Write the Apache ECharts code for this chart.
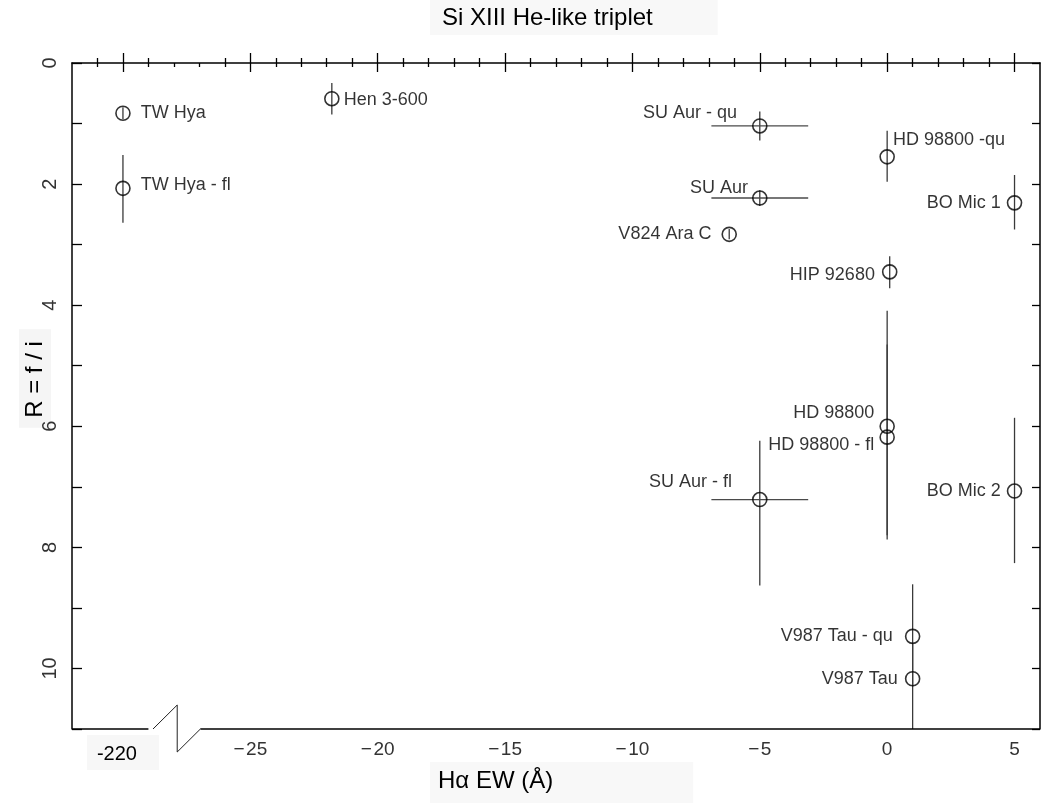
<!DOCTYPE html>
<html>
<head>
<meta charset="utf-8">
<title>Si XIII He-like triplet</title>
<script src="https://cdn.jsdelivr.net/npm/echarts@6/dist/echarts.min.js"></script>
<style>
  html, body { margin: 0; padding: 0; background: #fff; }
  #chart { width: 1049px; height: 803px; }
</style>
</head>
<body>
<div id="chart"></div>
<script>
// Stars and their Si XIII f/i ratio against H-alpha equivalent width
const names = ['TW Hya', 'TW Hya - fl', 'Hen 3-600', 'SU Aur - qu', 'HD 98800 -qu', 'SU Aur',
  'BO Mic 1', 'V824 Ara C', 'HIP 92680', 'HD 98800', 'HD 98800 - fl', 'SU Aur - fl',
  'BO Mic 2', 'V987 Tau - qu', 'V987 Tau'];
const haEW    = [-220, -220, -21.8, -5, 0, -5, 5, -6.2, 0.1, 0, 0, -5, 5, 1, 1];
const ratioR  = [0.83, 2.07, 0.59, 1.04, 1.55, 2.23, 2.31, 2.83, 3.45, 6.00, 6.18, 7.21, 7.07, 9.47, 10.17];
const ratioLo = [0.73, 1.52, 0.33, 0.80, 1.12, 2.10, 1.85, 2.74, 3.19, 4.09, 4.65, 6.24, 5.86, 8.61, 9.60];
const ratioHi = [0.93, 2.64, 0.85, 1.28, 1.96, 2.36, 2.75, 2.91, 3.72, 7.87, 7.80, 8.63, 8.26, 10.30, 11.60];
const ewLo    = [null, null, null, -6.9, null, -6.9, null, null, null, null, null, -6.9, null, null, null];
const ewHi    = [null, null, null, -3.1, null, -3.1, null, null, null, null, null, -3.1, null, null, null];

// Tick values and labels
const xMajorTicks = [-30, -25, -20, -15, -10, -5, 0, 5];
const xMajorLabels = ['-220', '\u2212\u200a25', '\u2212\u200a20', '\u2212\u200a15', '\u2212\u200a10', '\u2212\u200a5', '0', '5'];
const yMajorTicks = [0, 2, 4, 6, 8, 10];
const yMajorLabels = ['0', '2', '4', '6', '8', '10'];

// Broken x axis: the -220 group is drawn at -30 on the linear scale
const BREAK_REAL = -220, BREAK_SHOWN = -30;
const shownX = v => (v < -100 ? v - BREAK_REAL + BREAK_SHOWN : v);
const X_MIN = -32, X_MAX = 6, Y_MIN = 0, Y_MAX = 11;

// minor ticks every unit; the bottom axis has no ticks inside the break
const allUnits = [];
for (let v = -31; v <= 5; v++) if (v % 5 !== 0) allUnits.push(v);
const bottomMinor = allUnits.filter(v => v !== -28 && v !== -27);

// label placement: side, gap from marker centre (px), vertical shift (px)
const labelLayout = {
  'TW Hya': ['right', 17, 0],
  'TW Hya - fl': ['right', 17, -3],
  'Hen 3-600': ['right', 11, 1],
  'SU Aur - qu': ['left', 22, -13],
  'HD 98800 -qu': ['right', 5, -17],
  'SU Aur': ['left', 11, -10],
  'BO Mic 1': ['left', 13, 0],
  'V824 Ara C': ['left', 17, 0],
  'HIP 92680': ['left', 14, 3],
  'HD 98800': ['left', 12, -13],
  'HD 98800 - fl': ['left', 12, 8],
  'SU Aur - fl': ['left', 27, -18],
  'BO Mic 2': ['left', 13, 0],
  'V987 Tau - qu': ['left', 19, 0],
  'V987 Tau': ['left', 14, 0]
};

const FONT = '"Liberation Sans", Arial, Helvetica, sans-serif';
const MARK = 14;

const chart = echarts.init(document.getElementById('chart'), null, { renderer: 'canvas' });

const points = names.map((n, i) => {
  const [side, gap, dy] = labelLayout[n];
  const dx = side === 'left' ? -(gap - MARK / 2) : (gap - MARK / 2);
  return {
    name: n,
    value: [shownX(haEW[i]), ratioR[i]],
    label: { position: side, distance: 0, offset: [dx, dy] }
  };
});

const tickLine = { color: '#000', width: 1.3 };

const option = {
  animation: false,
  backgroundColor: '#fff',
  grid: { left: 72, right: 9, top: 63, bottom: 74, containLabel: false },
  xAxis: [
    { // bottom, major ticks and labels
      type: 'value', position: 'bottom', min: X_MIN, max: X_MAX,
      axisLine: { show: false },
      splitLine: { show: false },
      axisTick: { show: true, inside: true, length: 10, lineStyle: tickLine, customValues: xMajorTicks },
      axisLabel: {
        show: true, margin: 6, customValues: xMajorTicks,
        formatter: v => {
          const k = xMajorTicks.indexOf(v);
          const t = k >= 0 ? xMajorLabels[k] : '';
          return v < -27 ? '{brk|' + t + '}' : '{n|' + t + '}';
        },
        rich: {
          n: { fontFamily: FONT, fontSize: 19, color: '#333', padding: [5, 0, 0, 0] },
          brk: {
            fontFamily: FONT, fontSize: 20, color: '#000',
            backgroundColor: '#f7f7f7', padding: [9, 22, 6, 10]
          }
        }
      }
    },
    { // bottom, minor ticks
      type: 'value', position: 'bottom', min: X_MIN, max: X_MAX,
      axisLine: { show: false }, splitLine: { show: false }, axisLabel: { show: false },
      axisTick: { show: true, inside: true, length: 5, lineStyle: tickLine, customValues: bottomMinor }
    },
    { // top, major ticks
      type: 'value', position: 'top', min: X_MIN, max: X_MAX,
      axisLine: { show: true, onZero: false, lineStyle: { color: '#000', width: 1.5 } },
      splitLine: { show: false }, axisLabel: { show: false },
      axisTick: { show: true, inside: true, length: 9, lineStyle: tickLine, customValues: xMajorTicks }
    },
    { // top, minor ticks
      type: 'value', position: 'top', min: X_MIN, max: X_MAX,
      axisLine: { show: false }, splitLine: { show: false }, axisLabel: { show: false },
      axisTick: { show: true, inside: true, length: 4, lineStyle: tickLine, customValues: allUnits }
    }
  ],
  yAxis: [
    {
      type: 'value', position: 'left', inverse: true, min: Y_MIN, max: Y_MAX, interval: 1,
      axisLine: { show: true, onZero: false, lineStyle: { color: '#000', width: 1.5 } },
      splitLine: { show: false },
      axisTick: { show: true, inside: true, length: 10, lineStyle: tickLine },
      axisLabel: {
        show: true, rotate: 90, margin: 12, fontFamily: FONT, fontSize: 20, color: '#333',
        formatter: v => {
          const k = yMajorTicks.indexOf(v);
          return k >= 0 ? yMajorLabels[k] : '';
        }
      }
    },
    {
      type: 'value', position: 'right', inverse: true, min: Y_MIN, max: Y_MAX, interval: 1,
      axisLine: { show: true, onZero: false, lineStyle: { color: '#000', width: 1.5 } },
      splitLine: { show: false }, axisLabel: { show: false },
      axisTick: { show: true, inside: true, length: 8, lineStyle: tickLine }
    }
  ],
  series: [
    { // error bars
      type: 'custom',
      xAxisIndex: 0, yAxisIndex: 0,
      clip: true,
      data: names.map((n, i) => [shownX(haEW[i]), ratioR[i]]),
      renderItem: (params, api) => {
        const i = params.dataIndex;
        const x = shownX(haEW[i]);
        const children = [];
        const a = api.coord([x, ratioLo[i]]);
        const b = api.coord([x, ratioHi[i]]);
        children.push({
          type: 'line', shape: { x1: a[0], y1: a[1], x2: b[0], y2: b[1] },
          style: { stroke: '#3a3a3a', lineWidth: 1.3 }
        });
        if (ewLo[i] !== null) {
          const c = api.coord([ewLo[i], ratioR[i]]);
          const d = api.coord([ewHi[i], ratioR[i]]);
          children.push({
            type: 'line', shape: { x1: c[0], y1: c[1], x2: d[0], y2: d[1] },
            style: { stroke: '#4a4a4a', lineWidth: 1.3 }
          });
        }
        return { type: 'group', children };
      },
      z: 2
    },
    { // open circles with star names
      type: 'scatter',
      xAxisIndex: 0, yAxisIndex: 0,
      symbol: 'circle', symbolSize: MARK,
      itemStyle: { color: 'rgba(0,0,0,0)', borderColor: '#000', borderWidth: 1.6 },
      label: {
        show: true, formatter: '{b}', fontFamily: FONT, fontSize: 18, color: '#000'
      },
      emphasis: { disabled: true },
      data: points,
      z: 3
    }
  ]
};

chart.setOption(option);

// Bottom axis line with the break mark, placed through the x/y scales
const px = v => chart.convertToPixel({ xAxisIndex: 0 }, v);
const yb = chart.convertToPixel({ yAxisIndex: 0 }, Y_MAX);
const xl = px(X_MIN), xr = px(X_MAX);
const b0 = px(-29), b1 = px(-28.82), b2 = px(-27.87), b3 = px(-26.96);

chart.setOption({
  graphic: [
    { type: 'polyline', shape: { points: [[xl, yb], [b0, yb]] },
      style: { stroke: '#000', lineWidth: 1.5, fill: null }, z: 10 },
    { type: 'polyline', shape: { points: [[b1, yb], [b2, yb - 24], [b2, yb + 23], [b3, yb]] },
      style: { stroke: '#222', lineWidth: 1, fill: null }, z: 10 },
    { type: 'polyline', shape: { points: [[b3, yb], [xr, yb]] },
      style: { stroke: '#000', lineWidth: 1.5, fill: null }, z: 10 },
    { // title
      type: 'text', x: 430, y: 0, z: -1,
      style: {
        text: 'Si XIII He-like triplet', font: '24px ' + FONT, fill: '#000',
        align: 'left', verticalAlign: 'top',
        backgroundColor: '#f8f8f8', padding: [6, 65, 5, 12]
      }
    },
    { // x axis title
      type: 'text', x: 430, y: 762, z: -1,
      style: {
        text: 'H\u03b1 EW (\u00c5)', font: '24px ' + FONT, fill: '#000',
        align: 'left', verticalAlign: 'top',
        backgroundColor: '#f8f8f8', padding: [7, 140, 12, 8]
      }
    },
    { // y axis title, sits under the tick labels
      type: 'text', x: 35, y: 378.5, rotation: Math.PI / 2, z: -1,
      style: {
        text: 'R = f / i', font: '24px ' + FONT, fill: '#000',
        align: 'center', verticalAlign: 'middle',
        backgroundColor: '#f5f5f5', padding: [1, 12, 7, 10]
      }
    }
  ]
});
</script>
</body>
</html>
